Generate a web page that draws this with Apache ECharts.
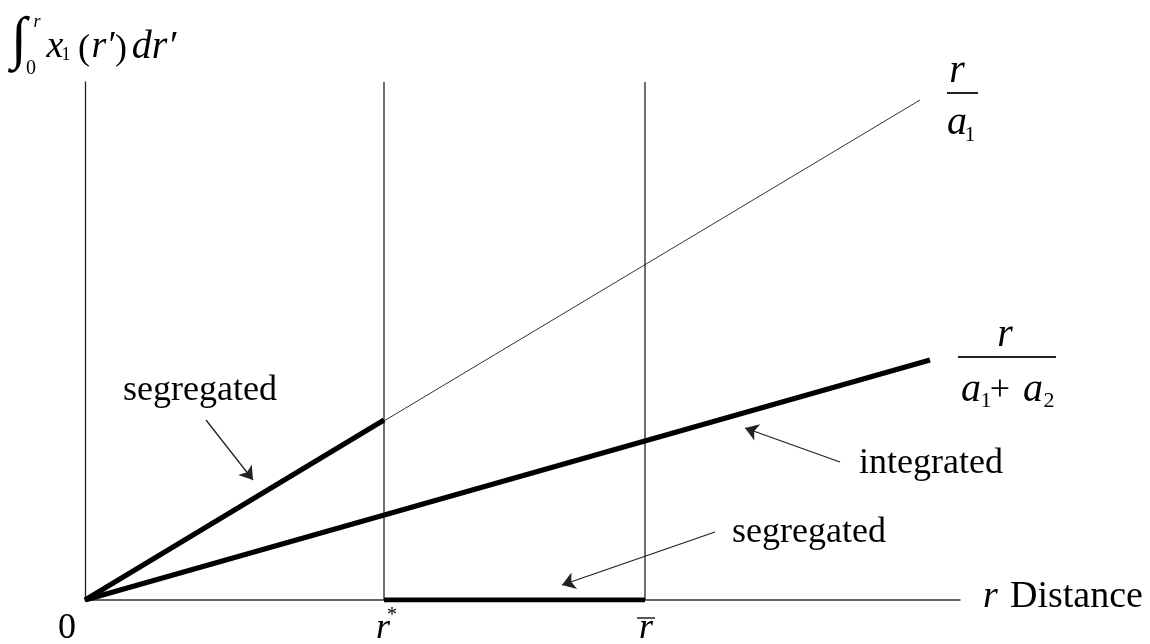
<!DOCTYPE html>
<html>
<head>
<meta charset="utf-8">
<script src="https://cdn.jsdelivr.net/npm/echarts@6/dist/echarts.min.js"></script>
<style>html,body{margin:0;padding:0;background:#fff}#c{width:1150px;height:644px}</style>
</head>
<body>
<div id="c"></div>
<script>
// ---- data (abstract units) ----
const xMax = 8.75;
const yMax = 5.18;
const rStar = 2.99;
const rBar = 5.60;
const lineA1 = [[0, 0], [8.35, 5.00]];          // r / a1 (thin)
const lineA1A2 = [[0, 0], [8.45, 2.40]];        // r / (a1+a2) integrated (thick)
const segUpper = [[0, 0], [rStar, 1.80]];       // segregated along r/a1
const segFlat = [[rStar, 0], [rBar, 0]];        // segregated flat
const vLines = [rStar, rBar];
const arrows = [
  [[1.21, 1.80], [1.68, 1.20]],
  [[7.55, 1.38], [6.60, 1.72]],
  [[6.30, 0.68], [4.77, 0.15]]
];
const labels = [
  {text: 'segregated', at: [1.15, 2.00]},
  {text: 'integrated', at: [8.46, 1.27]},
  {text: 'segregated', at: [7.24, 0.58]}
];

const SERIF = '"Liberation Serif", "DejaVu Serif", serif';
const chart = echarts.init(document.getElementById('c'));

const thick = {color: '#000', width: 5};
function seg(data, style, z) {
  return {type: 'line', data: data, symbol: 'none', lineStyle: style, itemStyle: {color: style.color}, z: z || 2, silent: true};
}

chart.setOption({
  animation: false,
  grid: {left: 85, right: 190, top: 82, bottom: 44},
  xAxis: {type: 'value', min: 0, max: xMax, axisLine: {show: true, lineStyle: {color: '#333', width: 1.5}},
          axisTick: {show: false}, axisLabel: {show: false}, splitLine: {show: false}},
  yAxis: {type: 'value', min: 0, max: yMax, axisLine: {show: true, lineStyle: {color: '#222', width: 1.3}},
          axisTick: {show: false}, axisLabel: {show: false}, splitLine: {show: false}},
  series: [
    ...vLines.map(v => seg([[v, 0], [v, yMax]], {color: '#222', width: 1.3}, 1)),
    seg(lineA1, {color: '#333', width: 1}, 2),
    seg(lineA1A2, thick, 3),
    seg(segUpper, thick, 3),
    seg(segFlat, thick, 3),
    {type: 'lines', coordinateSystem: 'cartesian2d', silent: true, z: 4,
     symbol: ['none', 'arrow'], symbolSize: 13,
     lineStyle: {color: '#222', width: 1.3, opacity: 1},
     data: arrows.map(a => ({coords: a}))}
  ]
});

// ---- text annotations (b = baseline) ----
function T(x, b, text, size, italic, align) {
  return {type: 'text', silent: true, z: 10,
    style: {x: x, y: b - 0.25 * size, text: text, fill: '#000',
      font: (italic ? 'italic ' : '') + size + 'px ' + SERIF,
      align: align || 'center', verticalAlign: 'middle'}};
}
function L(x1, y1, x2, y2, w) {
  return {type: 'line', silent: true, z: 10, shape: {x1: x1, y1: y1, x2: x2, y2: y2},
    style: {stroke: '#222', lineWidth: w || 1.5}};
}
const px = v => chart.convertToPixel({gridIndex: 0}, v);
const p0 = px([0, 0]);
const pS = px([rStar, 0]);
const pB = px([rBar, 0]);
const pA = px(lineA1[1]);
const pI = px(lineA1A2[1]);
const pX = px([xMax, 0]);

const g = [];
labels.forEach(l => { const p = px(l.at); g.push(T(p[0], p[1], l.text, 36, false)); });
// tick labels
g.push(T(p0[0] - 18, 638, '0', 36, false));
g.push(T(pS[0] - 1, 638, 'r', 36, true));
g.push(T(pS[0] + 8, 621, '*', 20, false));
g.push(T(pB[0] + 1, 638, 'r', 36, true));
g.push(L(pB[0] - 8, 618, pB[0] + 10, 618, 1.5));
// axis title
g.push(T(pX[0] + 23, 607, 'r', 38, true, 'left'));
g.push(T(pX[0] + 50, 607, 'Distance', 38, false, 'left'));
// y title: integral
g.push(T(19, 56, '\u222B', 58, false));
g.push(T(37, 27, 'r', 18, true));
g.push(T(31, 74, '0', 20, false));
g.push(T(55, 57, 'x', 38, true));
g.push(T(66, 60, '1', 18, false));
g.push(T(84, 59, '(', 36, false));
g.push(T(103, 57, 'r\u2032', 38, true));
g.push(T(121, 59, ')', 36, false));
g.push(T(154, 57, 'dr\u2032', 40, true));
// fraction r / a1
const fx1 = pA[0] + 42;
g.push(T(fx1 - 5, 81, 'r', 40, true));
g.push(L(fx1 - 15, 93, fx1 + 16, 93, 2));
g.push(T(fx1 - 5, 133, 'a', 40, true));
g.push(T(fx1 + 8, 141, '1', 22, false));
// fraction r / (a1 + a2)
const fx2 = pI[0] + 77;
g.push(T(fx2 - 2, 345, 'r', 40, true));
g.push(L(fx2 - 49, 357, fx2 + 49, 357, 2));
g.push(T(fx2 - 36, 400, 'a', 40, true));
g.push(T(fx2 - 21, 407, '1', 22, false));
g.push(T(fx2 - 7, 400, '+', 36, false));
g.push(T(fx2 + 26, 400, 'a', 40, true));
g.push(T(fx2 + 42, 407, '2', 22, false));
chart.setOption({graphic: g});
</script>
</body>
</html>
